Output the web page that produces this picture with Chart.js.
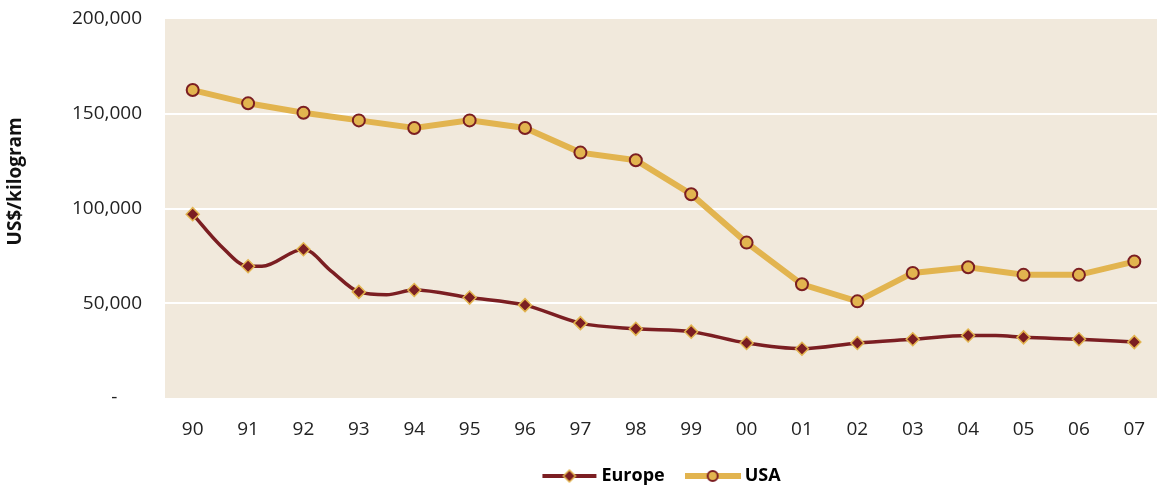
<!DOCTYPE html>
<html>
<head>
<meta charset="utf-8">
<script src="https://cdn.jsdelivr.net/npm/chart.js@4"></script>
<style>
  html, body { margin: 0; padding: 0; background: #ffffff; overflow: hidden; }
  canvas { display: block; }
</style>
</head>
<body>
<canvas id="c" width="1170" height="495" style="width:1170px;height:495px"></canvas>
<script>
// ---- data ----
const categories = ['90','91','92','93','94','95','96','97','98','99','00','01','02','03','04','05','06','07'];
const usaValues = [162500, 155500, 150500, 146500, 142500, 146500, 142500, 129500, 125500, 107500, 82000, 60000, 51000, 66000, 69000, 65000, 65000, 72000];
const europeValues = [97000, 69500, 78500, 56000, 57000, 53000, 49000, 39500, 36500, 35000, 29000, 26000, 29000, 31000, 33000, 32000, 31000, 29500];
// intermediate (unmarked) points of the Europe curve, position in category units
const europeMidPos = [0.5, 1.25, 2.5, 3.5, 14.5];
const europeMidValues = [80500, 69500, 67000, 54500, 33000];
const yTicks = [0, 50000, 100000, 150000, 200000];
const yTitle = 'US$/kilogram';
const seriesNames = ['Europe', 'USA'];

// ---- styles ----
const RED = '#7b1e22';
const GOLD = '#e2b44f';
const BG = '#f1e9dc';

const europePoints = europeValues.map((v, i) => ({x: i, y: v, mark: true}))
  .concat(europeMidPos.map((p, i) => ({x: p, y: europeMidValues[i], mark: false})))
  .sort((a, b) => a.x - b.x);
const usaPoints = usaValues.map((v, i) => ({x: i, y: v}));

function legendImg(kind) {
  const c = document.createElement('canvas');
  c.width = 56; c.height = 18;
  const g = c.getContext('2d');
  const cy = 9, cx = 28;
  if (kind === 0) {
    g.strokeStyle = RED; g.lineWidth = 4;
    g.beginPath(); g.moveTo(1, cy); g.lineTo(55, cy); g.stroke();
    g.beginPath(); g.moveTo(cx - 6, cy); g.lineTo(cx, cy - 6); g.lineTo(cx + 6, cy); g.lineTo(cx, cy + 6); g.closePath();
    g.fillStyle = RED; g.fill(); g.strokeStyle = GOLD; g.lineWidth = 1.5; g.stroke();
  } else {
    g.strokeStyle = GOLD; g.lineWidth = 6;
    g.beginPath(); g.moveTo(0, cy); g.lineTo(56, cy); g.stroke();
    g.beginPath(); g.arc(cx, cy, 5, 0, Math.PI * 2);
    g.fillStyle = GOLD; g.fill(); g.strokeStyle = RED; g.lineWidth = 2; g.stroke();
  }
  return c;
}
const legendImgs = [legendImg(0), legendImg(1)];

const plotBg = {
  id: 'plotBg',
  beforeDraw(chart) {
    const {ctx, chartArea: a} = chart;
    ctx.save(); ctx.fillStyle = BG;
    ctx.fillRect(a.left, a.top, a.right - a.left, a.bottom - a.top);
    ctx.restore();
  }
};

new Chart(document.getElementById('c'), {
  type: 'line',
  data: {
    datasets: [
      {
        label: seriesNames[0],
        data: europePoints,
        borderColor: RED,
        borderWidth: 3.5,
        cubicInterpolationMode: 'monotone',
        pointStyle: 'rectRot',
        pointRadius: (ctx) => (ctx.raw && ctx.raw.mark ? 6.5 : 0),
        pointHoverRadius: (ctx) => (ctx.raw && ctx.raw.mark ? 6.5 : 0),
        pointBackgroundColor: RED,
        pointBorderColor: GOLD,
        pointBorderWidth: 1.5
      },
      {
        label: seriesNames[1],
        data: usaPoints,
        borderColor: GOLD,
        borderWidth: 6,
        tension: 0,
        pointStyle: 'circle',
        pointRadius: 6,
        pointHoverRadius: 6,
        pointBackgroundColor: GOLD,
        pointBorderColor: RED,
        pointBorderWidth: 2
      }
    ]
  },
  options: {
    responsive: false,
    devicePixelRatio: 1,
    animation: false,
    events: [],
    layout: { padding: { top: 19, right: 0, bottom: 0, left: 0 } },
    scales: {
      x: {
        type: 'linear',
        min: -0.5,
        max: 17.5,
        afterBuildTicks: (s) => { s.ticks = categories.map((_, i) => ({value: i})); },
        afterFit: (s) => { s.height = 44; s.paddingLeft = 0; s.paddingRight = 0; },
        grid: { display: false, drawTicks: false },
        border: { display: false },
        ticks: {
          autoSkip: false,
          maxRotation: 0,
          padding: 20,
          color: '#222',
          font: { family: 'Open Sans', size: 19 },
          callback: (v) => categories[v] ?? ''
        }
      },
      y: {
        min: 0,
        max: 200000,
        afterBuildTicks: (s) => { s.ticks = yTicks.map(v => ({value: v})); },
        afterFit: (s) => { s.width = 165; s.paddingTop = 0; s.paddingBottom = 0; },
        grid: {
          drawTicks: false,
          color: (c) => (c.tick && c.tick.value > 0 && c.tick.value < 200000 ? '#ffffff' : 'rgba(0,0,0,0)'),
          lineWidth: 2
        },
        border: { display: false },
        ticks: {
          padding: 23,
          color: '#222',
          font: { family: 'Open Sans', size: 19 },
          callback: (v) => (v === 0 ? '-     ' : v.toLocaleString('en-US'))
        },
        title: {
          display: true,
          text: ' '.repeat(11) + yTitle,
          color: '#111',
          padding: { top: 4, bottom: 0 },
          font: { family: 'Open Sans', size: 19, weight: 'bold' }
        }
      }
    },
    plugins: {
      tooltip: { enabled: false },
      legend: {
        position: 'bottom',
        fullSize: false,
        labels: {
          usePointStyle: true,
          pointStyleWidth: 46,
          padding: 25,
          color: '#000',
          font: { family: 'Open Sans', size: 18, weight: 'bold' },
          generateLabels: (chart) => {
            const items = Chart.defaults.plugins.legend.labels.generateLabels(chart);
            items.forEach((it) => { it.pointStyle = legendImgs[it.datasetIndex]; });
            return items;
          }
        }
      }
    }
  },
  plugins: [plotBg]
});
</script>
</body>
</html>
